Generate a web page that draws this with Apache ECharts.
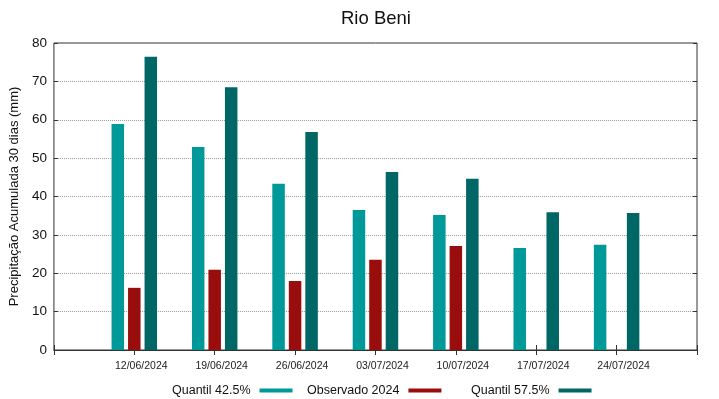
<html>
<head>
    <meta charset="utf-8">
    <title>Rio Beni</title>
    <script src="https://cdn.jsdelivr.net/npm/echarts@6/dist/echarts.min.js"></script>
</head>
<body style="margin:0">
<div id="main" style="width:719px;height:399px;"></div>
<script type="text/javascript">
// dados
var datas = ['', '12/06/2024', '19/06/2024', '26/06/2024', '03/07/2024', '10/07/2024', '17/07/2024', '24/07/2024', ''];
var q425 = [null, 58.9, 52.9, 43.3, 36.5, 35.2, 26.6, 27.4, null];
var obs2024 = [null, 16.2, 20.9, 18.0, 23.5, 27.1, null, null, null];
var q575 = [null, 76.4, 68.5, 56.8, 46.4, 44.6, 35.9, 35.7, null];
var nomes = ['Quantil 42.5%', 'Observado 2024', 'Quantil 57.5%'];
var cores = ['#009999', '#990d0d', '#006666'];

var myChart = echarts.init(document.getElementById('main'));

function legenda(i, x) {
    return {
        data: [nomes[i]],
        left: x,
        top: 379,
        align: 'right',
        itemWidth: 33,
        itemHeight: 4,
        icon: 'rect',
        selectedMode: false,
        textStyle: { fontSize: 12.5, color: '#111', fontFamily: 'Liberation Sans', padding: [0, 4, 0, 0] }
    };
}

var option = {
    animation: false,
    color: cores,
    title: {
        text: 'Rio Beni',
        left: 336,
        top: 4,
        textStyle: { fontSize: 18.5, fontWeight: 'normal', color: '#111', fontFamily: 'Liberation Sans' }
    },
    legend: [legenda(0, 167), legenda(1, 302), legenda(2, 466)],
    grid: {
        left: 52, right: 22, top: 43, bottom: 49,
        show: true, borderColor: '#333', borderWidth: 1
    },
    xAxis: [{
        type: 'category',
        data: datas,
        boundaryGap: false,
        axisLine: { show: true, lineStyle: { color: '#333' } },
        axisTick: { inside: true, length: 5, lineStyle: { color: '#333' } },
        axisLabel: {
            interval: 0, fontSize: 10.5, color: '#222', margin: 11,
            fontFamily: 'Liberation Sans', padding: [0, 0, 0, 14]
        },
        splitLine: { show: false }
    }, {
        type: 'category',
        data: datas,
        position: 'top',
        boundaryGap: false,
        axisLine: { show: false },
        axisTick: { inside: true, length: 5, lineStyle: { color: '#333' } },
        axisLabel: { show: false },
        splitLine: { show: false }
    }],
    yAxis: [{
        type: 'value',
        min: 0, max: 80, interval: 10,
        name: 'Precipitação Acumulada 30 dias (mm)',
        nameLocation: 'middle',
        nameGap: 28,
        nameTextStyle: { fontSize: 13, color: '#111', fontFamily: 'Liberation Sans' },
        axisLine: { show: false },
        axisTick: { show: true, inside: true, length: 4, lineStyle: { color: '#333' } },
        axisLabel: { fontSize: 13.5, color: '#111', margin: 7, fontFamily: 'Liberation Sans' },
        splitLine: { lineStyle: { type: 'dotted', color: '#999', width: 1 } }
    }, {
        type: 'value',
        min: 0, max: 80, interval: 10,
        position: 'right',
        axisLine: { show: false },
        axisTick: { show: true, inside: true, length: 4, lineStyle: { color: '#333' } },
        axisLabel: { show: false },
        splitLine: { show: false }
    }],
    series: [{
        name: nomes[0], type: 'bar', data: q425,
        barWidth: 12.5, barGap: '32%'
    }, {
        name: nomes[1], type: 'bar', data: obs2024,
        barWidth: 12.5, barGap: '32%'
    }, {
        name: nomes[2], type: 'bar', data: q575,
        barWidth: 12.5, barGap: '32%'
    }]
};
myChart.setOption(option);
</script>
</body>
</html>
